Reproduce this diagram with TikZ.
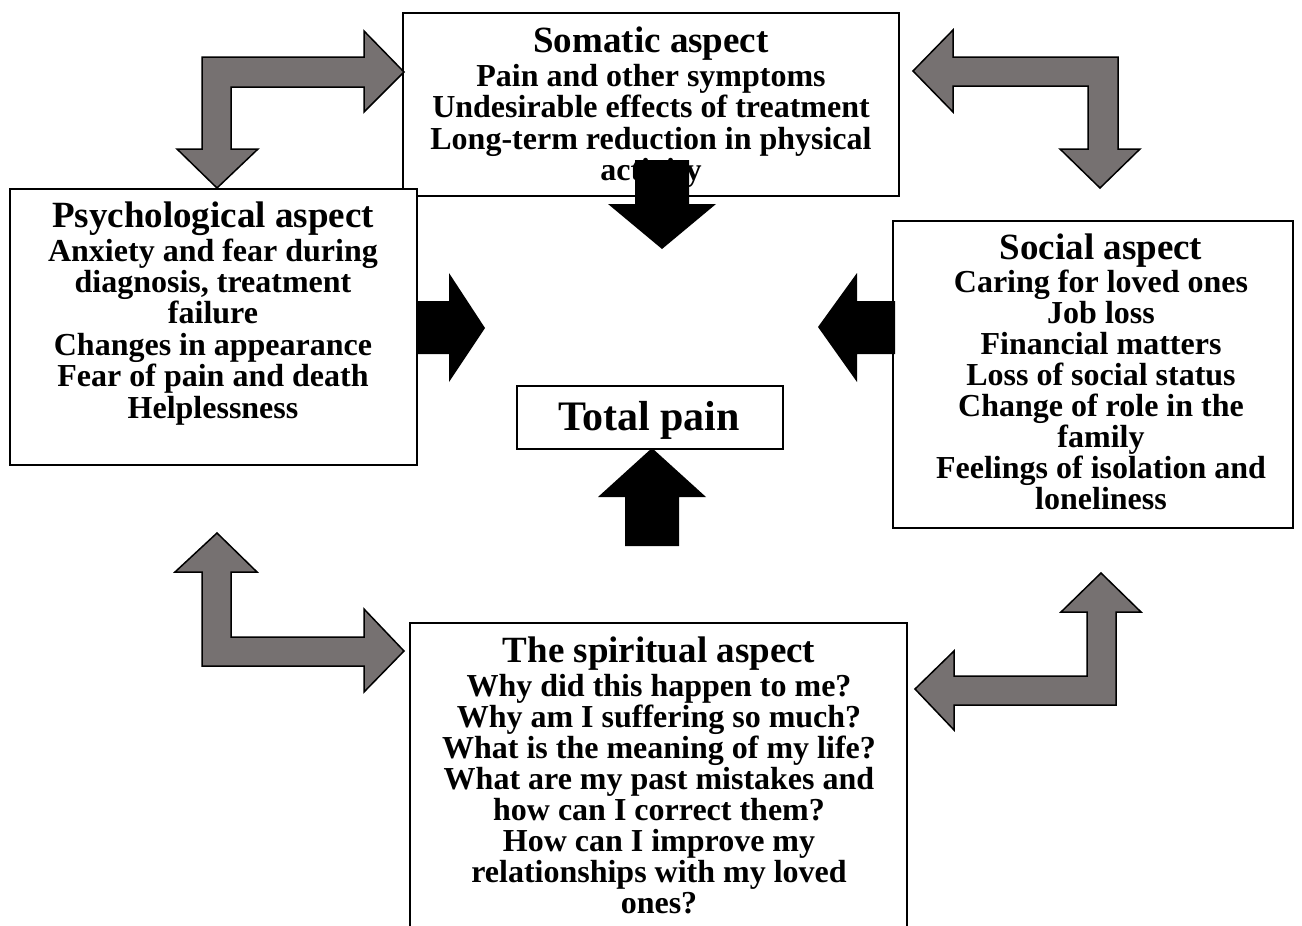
\documentclass[tikz,border=0pt]{standalone}
\usepackage{fontspec}
\setmainfont{Liberation Serif}
\definecolor{arrowgray}{RGB}{118,113,113}
\begin{document}
\begin{tikzpicture}[x=1pt,y=-1pt,
  box/.style={draw=black, line width=1.5pt, fill=white, inner sep=0pt, outer sep=0pt},
  headline/.style={font=\bfseries\fontsize{37}{37}\selectfont, inner sep=0pt, anchor=base},
  item/.style={font=\bfseries\fontsize{32}{32}\selectfont, inner sep=0pt, anchor=base},
  grayarrow/.style={fill=arrowgray, draw=black, line width=1.5pt, line join=miter},
  blackarrow/.style={fill=black, draw=none}]
\useasboundingbox (0,0) rectangle (1302,926);

% Somatic aspect
\node[box, minimum width=496, minimum height=183] (soma) at (651,104.5) {};
\node[headline] (soma-title) at (651,52) {Somatic aspect};
\foreach \t [count=\i] in {Pain and other symptoms, Undesirable effects of treatment,
    Long-term reduction in physical, activity}
  \node[item] (soma-\i) at (651,{86+31.5*(\i-1)}) {\t};

% Psychological aspect
\node[box, minimum width=407, minimum height=276] (psych) at (213.5,327) {};
\node[headline] (psych-title) at (213,227) {Psychological aspect};
\foreach \t [count=\i] in {Anxiety and fear during, {diagnosis, treatment}, failure,
    Changes in appearance, Fear of pain and death, Helplessness}
  \node[item] (psych-\i) at (213,{261+31.4*(\i-1)}) {\t};

% Social aspect
\node[box, minimum width=400, minimum height=307] (social) at (1093,374.5) {};
\node[headline] (social-title) at (1101,259) {Social aspect};
\foreach \t [count=\i] in {Caring for loved ones, Job loss, Financial matters,
    Loss of social status, Change of role in the, family, Feelings of isolation and, loneliness}
  \node[item] (social-\i) at (1101,{292+31*(\i-1)}) {\t};

% Spiritual aspect
\node[box, minimum width=497, minimum height=317] (spirit) at (658.5,781.5) {};
\node[headline] (spirit-title) at (659,662) {The spiritual aspect};
\foreach \t [count=\i] in {Why did this happen to me?, Why am I suffering so much?,
    What is the meaning of my life?, What are my past mistakes and,
    how can I correct them?, How can I improve my, relationships with my loved, ones?}
  \node[item] (spirit-\i) at (659,{696+31*(\i-1)}) {\t};

% Total pain
\node[box, minimum width=266, minimum height=63] (total) at (650,417.5) {};
\node[font=\bfseries\fontsize{42}{42}\selectfont, inner sep=0pt, anchor=base] (total-text) at (649,430) {Total pain};

% Black arrows pointing at the centre
\fill[blackarrow] (635,160) -- (689,160) -- (689,204) -- (716,204) -- (662,249) -- (608,204) -- (635,204) -- cycle;
\fill[blackarrow] (416,301) -- (449,301) -- (449,273) -- (485,328) -- (449,382) -- (449,354) -- (416,354) -- cycle;
\fill[blackarrow] (895,301) -- (857,301) -- (857,273) -- (818,327) -- (857,382) -- (857,354) -- (895,354) -- cycle;
\fill[blackarrow] (625,546) -- (625,497) -- (598,497) -- (652,448) -- (706,497) -- (679,497) -- (679,546) -- cycle;

% Grey bent double arrows between the aspects
\filldraw[grayarrow] (404,72) -- (364,31) -- (364,57) -- (202,57) -- (202,149) -- (177,149)
  -- (217,188) -- (258,149) -- (231,149) -- (231,87) -- (364,87) -- (364,112) -- cycle;
\filldraw[grayarrow] (913,71) -- (953,30) -- (953,57) -- (1118,57) -- (1118,149) -- (1140,149)
  -- (1100,188) -- (1060,149) -- (1088,149) -- (1088,86) -- (953,86) -- (953,112) -- cycle;
\filldraw[grayarrow] (217,533) -- (257,572) -- (231,572) -- (231,637) -- (364,637) -- (364,609)
  -- (404,651) -- (364,692) -- (364,666) -- (202,666) -- (202,572) -- (175,572) -- cycle;
\filldraw[grayarrow] (1101,573) -- (1141,612) -- (1116,612) -- (1116,705) -- (954,705) -- (954,730)
  -- (915,689) -- (954,651) -- (954,676) -- (1087,676) -- (1087,612) -- (1061,612) -- cycle;
\end{tikzpicture}
\end{document}
